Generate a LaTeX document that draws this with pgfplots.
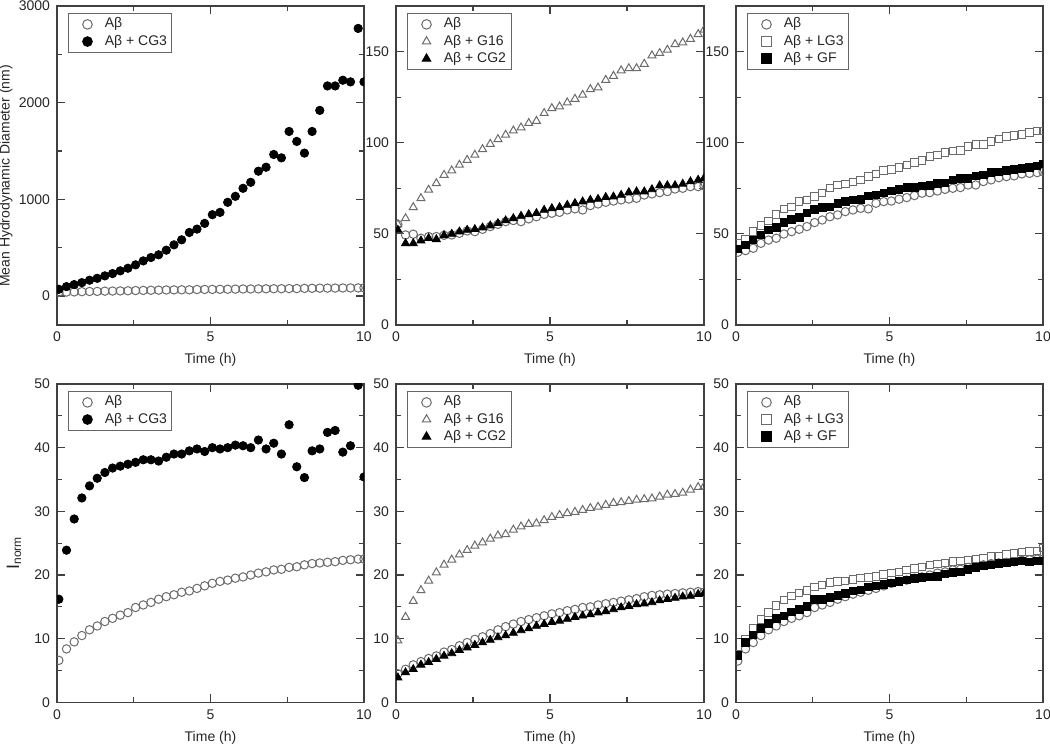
\documentclass[border=0pt]{standalone}
\usepackage{fontspec}
\setmainfont{Liberation Sans}
\usepackage{pgfplots}
\usepackage{pgfplotstable}
\pgfplotsset{compat=1.18}

\definecolor{axgray}{gray}{0.25}
\definecolor{opengray}{gray}{0.42}

% top row: mean hydrodynamic diameter
\pgfplotstableread{
t ab cg3
0.06 39.9 69
0.31 40.8 97
0.56 42.1 118
0.81 44.8 138
1.06 46.6 163
1.31 47.6 183
1.56 49.9 208
1.81 51.2 232
2.06 52.5 260
2.31 54.0 287
2.56 56.2 322
2.81 57.6 363
3.06 59.4 398
3.31 60.4 426
3.56 62.2 474
3.81 63.1 529
4.06 64.0 581
4.31 63.7 657
4.56 66.8 692
4.81 67.7 751
5.06 68.0 841
5.31 69.0 865
5.56 69.9 969
5.81 71.0 1031
6.06 72.3 1114
6.31 72.6 1176
6.56 73.5 1291
6.81 74.4 1332
7.06 75.0 1464
7.31 75.4 1429
7.56 76.8 1702
7.81 76.8 1599
8.06 78.7 1478
8.31 79.6 1702
8.56 80.8 1920
8.81 81.4 2173
9.06 81.8 2173
9.31 82.9 2232
9.56 83.2 2215
9.81 83.6 2768
10.0 84.1 2215
}\dA

\pgfplotstableread{
t ab g16 cg2
0.06 55.2 55.2 52.1
0.31 49.4 58.5 44.8
0.56 49.8 64.6 44.8
0.81 47.6 69.5 46.3
1.06 48.5 74.1 47.6
1.31 48.5 77.7 47.0
1.56 49.2 82.3 49.2
1.81 49.4 84.7 49.9
2.06 50.3 87.8 51.2
2.31 51.6 90.5 52.1
2.56 51.2 93.3 52.5
2.81 52.5 96.4 53.4
3.06 54.0 99.3 54.5
3.31 55.2 101.9 55.8
3.56 56.7 104.3 57.3
3.81 57.3 106.6 58.5
4.06 56.7 108.3 59.8
4.31 58.2 110.7 60.7
4.56 59.4 111.9 61.3
4.81 60.7 116.2 63.1
5.06 61.3 118.9 64.0
5.31 61.8 119.8 64.6
5.56 63.1 122.0 65.8
5.81 63.7 124.0 66.8
6.06 63.1 126.2 67.7
6.31 65.5 129.3 68.6
6.56 66.4 130.2 69.1
6.81 67.3 134.4 70.1
7.06 68.0 136.6 70.4
7.31 68.6 139.6 71.3
7.56 69.1 140.8 72.8
7.81 69.5 140.8 73.2
8.06 71.3 143.2 73.2
8.31 71.9 147.8 74.4
8.56 72.6 149.1 76.5
8.81 73.2 150.9 76.6
9.06 74.6 154.0 76.6
9.31 75.0 154.9 77.4
9.56 75.9 156.9 78.7
9.81 75.9 159.5 79.6
10.0 76.3 161.9 80.5
}\dB

\pgfplotstableread{
t ab lg3 gf
0.06 39.9 44.8 41.7
0.31 40.8 47.2 43.9
0.56 42.1 51.2 46.6
0.81 44.8 54.5 49.4
1.06 46.6 57.1 52.1
1.31 47.6 60.7 53.6
1.56 49.9 63.5 56.2
1.81 51.2 64.6 58.0
2.06 52.5 67.7 59.1
2.31 54.0 68.6 61.6
2.56 56.2 70.4 63.5
2.81 57.6 72.3 64.6
3.06 59.4 75.0 64.9
3.31 60.4 76.8 66.8
3.56 62.2 77.2 67.7
3.81 63.1 78.3 68.6
4.06 64.0 79.6 69.0
4.31 63.7 81.4 70.8
4.56 66.8 82.9 71.3
4.81 67.7 84.7 72.6
5.06 68.0 85.4 73.5
5.31 69.0 86.3 74.4
5.56 69.9 87.8 75.4
5.81 71.0 89.1 75.4
6.06 72.3 90.2 76.3
6.31 72.6 92.4 76.5
6.56 73.5 93.3 77.7
6.81 74.4 94.6 78.1
7.06 75.0 95.5 79.6
7.31 75.4 95.7 80.5
7.56 76.8 97.9 80.5
7.81 76.8 99.1 81.8
8.06 78.7 99.1 82.3
8.31 79.6 100.6 83.6
8.56 80.8 101.9 84.1
8.81 81.4 103.3 84.7
9.06 81.8 103.9 85.4
9.31 82.9 104.6 86.0
9.56 83.2 105.5 86.5
9.81 83.6 106.5 87.3
10.0 84.1 106.5 88.3
}\dC

% bottom row: I_norm
\pgfplotstableread{
t ab cg3
0.06 6.6 16.2
0.31 8.4 23.9
0.56 9.5 28.8
0.81 10.5 32.1
1.06 11.4 34.0
1.31 12.0 35.2
1.56 12.7 36.1
1.81 13.2 36.8
2.06 13.7 37.1
2.31 14.1 37.4
2.56 14.9 37.7
2.81 15.3 38.1
3.06 15.7 38.1
3.31 16.2 37.9
3.56 16.6 38.5
3.81 16.9 39.0
4.06 17.3 39.0
4.31 17.5 39.5
4.56 17.9 39.8
4.81 18.3 39.4
5.06 18.7 40.0
5.31 19.0 39.8
5.56 19.2 40.0
5.81 19.5 40.4
6.06 19.7 40.3
6.31 20.0 40.0
6.56 20.3 41.2
6.81 20.5 39.8
7.06 20.8 40.7
7.31 20.9 39.0
7.56 21.2 43.6
7.81 21.3 37.0
8.06 21.6 35.3
8.31 21.8 39.5
8.56 21.9 39.8
8.81 22.0 42.4
9.06 22.1 42.7
9.31 22.3 39.3
9.56 22.4 40.3
9.81 22.5 49.8
10.0 22.5 35.4
}\dD

\pgfplotstableread{
t ab g16 cg2
0.06 4.5 9.7 3.9
0.31 5.2 13.4 4.7
0.56 5.9 15.9 5.2
0.81 6.4 17.6 5.9
1.06 6.9 19.1 6.3
1.31 7.3 20.4 6.8
1.56 7.9 21.6 7.3
1.81 8.3 22.4 7.7
2.06 8.9 23.2 8.2
2.31 9.4 23.9 8.6
2.56 9.9 24.6 9.0
2.81 10.3 25.1 9.4
3.06 10.8 25.7 9.8
3.31 11.4 26.2 10.2
3.56 11.9 26.4 10.5
3.81 12.3 27.1 10.9
4.06 12.7 27.6 11.3
4.31 13.0 28.0 11.6
4.56 13.3 28.1 12.0
4.81 13.6 28.6 12.3
5.06 13.9 29.1 12.6
5.31 14.1 29.4 12.8
5.56 14.4 29.7 13.1
5.81 14.6 29.9 13.4
6.06 14.9 30.2 13.6
6.31 15.0 30.5 13.8
6.56 15.3 30.7 14.1
6.81 15.5 31.0 14.3
7.06 15.7 31.3 14.6
7.31 15.9 31.4 14.9
7.56 16.1 31.6 15.1
7.81 16.3 31.8 15.4
8.06 16.6 31.9 15.5
8.31 16.8 32.0 15.7
8.56 16.9 32.3 16.0
8.81 17.0 32.6 16.2
9.06 17.1 32.7 16.4
9.31 17.2 32.9 16.6
9.56 17.3 33.4 16.7
9.81 17.4 33.8 17.0
10.0 17.3 33.9 17.1
}\dE

\pgfplotstableread{
t ab lg3 gf
0.06 6.5 7.6 7.4
0.31 8.4 10.0 9.4
0.56 9.4 11.6 10.6
0.81 10.5 13.0 11.6
1.06 11.4 14.1 12.4
1.31 12.0 15.2 13.2
1.56 12.7 16.1 13.6
1.81 13.2 16.7 14.2
2.06 13.6 17.2 14.6
2.31 14.1 17.6 15.1
2.56 14.9 18.1 16.2
2.81 15.3 18.4 16.2
3.06 15.7 18.8 16.5
3.31 16.2 19.0 16.8
3.56 16.6 19.1 17.1
3.81 17.0 19.3 17.5
4.06 17.3 19.5 17.7
4.31 17.6 19.6 18.1
4.56 17.9 19.8 18.3
4.81 18.3 20.1 18.5
5.06 18.7 20.3 18.8
5.31 19.0 20.5 19.0
5.56 19.2 20.8 19.2
5.81 19.5 21.0 19.5
6.06 19.7 21.3 19.6
6.31 20.0 21.6 19.7
6.56 20.3 21.7 19.8
6.81 20.5 21.9 20.2
7.06 20.8 22.1 20.4
7.31 20.9 22.2 20.5
7.56 21.2 22.4 20.9
7.81 21.3 22.5 21.2
8.06 21.6 22.7 21.4
8.31 21.8 22.9 21.6
8.56 21.9 23.0 21.8
8.81 22.0 23.2 21.9
9.06 22.1 23.4 22.1
9.31 22.3 23.6 22.2
9.56 22.4 23.7 22.1
9.81 22.5 23.8 22.2
10.0 22.5 24.2 22.2
}\dF

\newcommand{\ab}{Aβ}
\newcommand{\fs}{\fontsize{7}{8.4}\selectfont}

\pgfplotsset{
  panel/.style={
    scale only axis,
    width=153.5pt, height=159.5pt,
    xmin=0, xmax=10,
    xtick={0,5,10}, minor xtick={2.5,7.5},
    axis line style={axgray, line width=0.8pt},
    every tick/.style={axgray, line width=0.6pt},
    major tick length=4pt, minor tick length=2.5pt,
    tick label style={font=\fs, text=black!85},
    label style={font=\fs, text=black!85},
    /pgf/number format/assume math mode=true,
    /pgf/number format/1000 sep={},
    scaled ticks=false,
    xlabel={Time (h)},
    xlabel style={at={(axis description cs:0.5,0)}, anchor=center, yshift=-17.5pt},
    clip marker paths=true,
    legend cell align=left,
    legend style={at={(axis description cs:0.036,0.977)}, anchor=north west,
      draw=black!60, line width=0.5pt, font=\fs, text=black!85,
      inner xsep=1.5pt, inner ysep=1pt, row sep=0pt,
      nodes={inner sep=1pt}},
  },
  mkleg/.style={legend image code/.code={%
    \path[draw=none, fill=none] (0cm,0cm) (0.55cm,0cm);
    \draw[##1, mark size=2.4pt] plot coordinates {(0.28cm,0cm)};}},
  openmk/.style={only marks, opengray, mark options={line width=0.5pt, fill=none}, mkleg},
  fillmk/.style={only marks, black, mkleg},
}

\begin{document}
\begin{tikzpicture}
\useasboundingbox (0,0) rectangle (525pt,373.5pt);

% ---------- top row ----------
\begin{axis}[panel, at={(28.5pt,211pt)},
  ymin=-300, ymax=3000, ytick={0,1000,2000,3000}, minor ytick={500,1500,2500},
  ylabel={Mean Hydrodynamic Diameter (nm)},
  ylabel style={at={(axis description cs:-0.166,0.467)}, anchor=center}]
\addplot[openmk, mark=o, mark size=2.1pt] table[x=t,y=ab] {\dA};
\addlegendentry{\ab}
\addplot[fillmk, mark=*, mark size=2.1pt] table[x=t,y=cg3] {\dA};
\addlegendentry{\ab{} + CG3}
\end{axis}

\begin{axis}[panel, at={(198pt,211pt)}, width=154pt,
  ymin=0, ymax=175, ytick={0,50,100,150}, minor ytick={25,75,125}]
\addplot[openmk, mark=o, mark size=2.1pt] table[x=t,y=ab] {\dB};
\addlegendentry{\ab}
\addplot[openmk, mark=triangle, mark size=2.3pt] table[x=t,y=g16] {\dB};
\addlegendentry{\ab{} + G16}
\addplot[fillmk, mark=triangle*, mark size=2.3pt] table[x=t,y=cg2] {\dB};
\addlegendentry{\ab{} + CG2}
\end{axis}

\begin{axis}[panel, at={(368pt,211pt)},
  ymin=0, ymax=175, ytick={0,50,100,150}, minor ytick={25,75,125}]
\addplot[openmk, mark=o, mark size=2.1pt] table[x=t,y=ab] {\dC};
\addlegendentry{\ab}
\addplot[openmk, mark=square, mark size=1.85pt] table[x=t,y=lg3] {\dC};
\addlegendentry{\ab{} + LG3}
\addplot[fillmk, mark=square*, mark size=1.85pt] table[x=t,y=gf] {\dC};
\addlegendentry{\ab{} + GF}
\end{axis}

% ---------- bottom row ----------
\begin{axis}[panel, at={(28.5pt,22.3pt)}, height=159.2pt,
  ymin=0, ymax=50, ytick={0,10,...,50}, minor ytick={5,15,...,45},
  ylabel={I\textsubscript{norm}},
  ylabel style={at={(axis description cs:-0.14,0.47)}, anchor=center, font=\fontsize{9}{10}\selectfont}]
\addplot[openmk, mark=o, mark size=2.1pt] table[x=t,y=ab] {\dD};
\addlegendentry{\ab}
\addplot[fillmk, mark=*, mark size=2.1pt] table[x=t,y=cg3] {\dD};
\addlegendentry{\ab{} + CG3}
\end{axis}

\begin{axis}[panel, at={(198pt,22.3pt)}, width=154pt, height=159.2pt,
  ymin=0, ymax=50, ytick={0,10,...,50}, minor ytick={5,15,...,45}]
\addplot[openmk, mark=o, mark size=2.1pt] table[x=t,y=ab] {\dE};
\addlegendentry{\ab}
\addplot[openmk, mark=triangle, mark size=2.3pt] table[x=t,y=g16] {\dE};
\addlegendentry{\ab{} + G16}
\addplot[fillmk, mark=triangle*, mark size=2.3pt] table[x=t,y=cg2] {\dE};
\addlegendentry{\ab{} + CG2}
\end{axis}

\begin{axis}[panel, at={(368pt,22.3pt)}, height=159.2pt,
  ymin=0, ymax=50, ytick={0,10,...,50}, minor ytick={5,15,...,45}]
\addplot[openmk, mark=o, mark size=2.1pt] table[x=t,y=ab] {\dF};
\addlegendentry{\ab}
\addplot[openmk, mark=square, mark size=1.85pt] table[x=t,y=lg3] {\dF};
\addlegendentry{\ab{} + LG3}
\addplot[fillmk, mark=square*, mark size=1.85pt] table[x=t,y=gf] {\dF};
\addlegendentry{\ab{} + GF}
\end{axis}
\end{tikzpicture}
\end{document}
